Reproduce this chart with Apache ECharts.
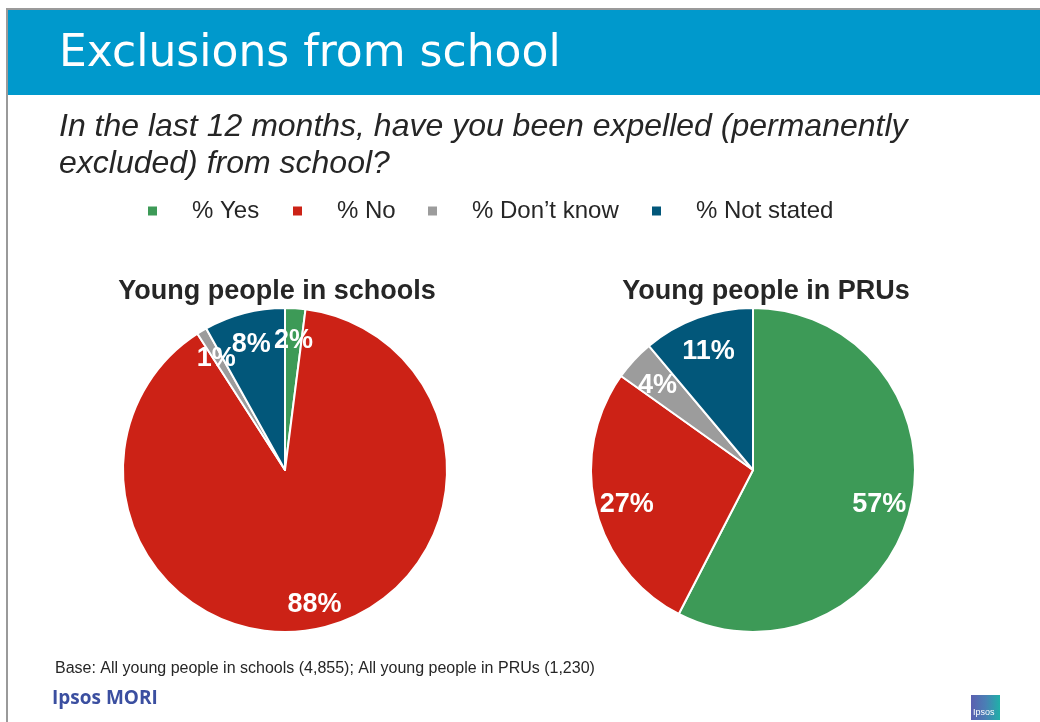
<!DOCTYPE html>
<html>
<head>
<meta charset="utf-8">
<style>
  html, body { margin: 0; padding: 0; background: #ffffff; }
  #chart { width: 1040px; height: 722px; }
</style>
<script src="https://cdn.jsdelivr.net/npm/echarts@6/dist/echarts.min.js"></script>
</head>
<body>
<div id="chart"></div>
<script>
// Answer categories and their colours
const categories = ['% Yes', '% No', '% Don\u2019t know', '% Not stated'];
const colors = ['#3D9A57', '#CC2216', '#9C9C9C', '#02577A'];

// Percentages for each group
const schoolsValues = [2, 88, 1, 8];
const prusValues = [57, 27, 4, 11];

const groupTitles = ['Young people in schools', 'Young people in PRUs'];

const FONT = '"Liberation Sans", Arial, sans-serif';

const chart = echarts.init(document.getElementById('chart'), null, { renderer: 'canvas' });

const R = 162;
const centers = [[285, 470], [753, 470]];

function toData(values) {
  return values.map((v, i) => ({ name: categories[i], value: v, itemStyle: { color: colors[i] } }));
}

function pieSeries(values, center, labelInner) {
  return [
    {
      type: 'pie',
      center: center,
      radius: [0, R],
      startAngle: 90,
      clockwise: true,
      animation: false,
      silent: true,
      label: { show: false },
      labelLine: { show: false },
      itemStyle: { borderColor: '#ffffff', borderWidth: 2 },
      data: toData(values)
    },
    {
      // transparent ring that carries the value labels near the rim
      type: 'pie',
      center: center,
      radius: [labelInner, R],
      startAngle: 90,
      clockwise: true,
      animation: false,
      silent: true,
      avoidLabelOverlap: false,
      legendHoverLink: false,
      itemStyle: { color: 'rgba(0,0,0,0)', borderWidth: 0 },
      label: {
        show: true,
        position: 'inside',
        formatter: p => p.value + '%',
        color: '#ffffff',
        fontFamily: FONT,
        fontWeight: 'bold',
        fontSize: 27
      },
      labelLayout: { hideOverlap: false, dy: 4 },
      labelLine: { show: false },
      data: values.map((v, i) => ({ name: categories[i] + ' ', value: v }))
    }
  ];
}

// one legend block per category so each entry sits at its own position
const legendLefts = [141, 286, 421, 645];
const legends = categories.map((c, i) => ({
  data: [c],
  top: 194,
  left: legendLefts[i],
  itemWidth: 11,
  itemHeight: 11,
  icon: 'rect',
  selectedMode: false,
  textStyle: {
    fontFamily: FONT,
    fontSize: 24,
    color: '#262626',
    padding: [0, 0, 0, 29]
  }
}));

const option = {
  backgroundColor: '#ffffff',
  animation: false,
  legend: legends,
  title: [
    {
      text: groupTitles[0],
      left: 272,
      textAlign: 'center',
      top: 273,
      textStyle: { fontFamily: FONT, fontWeight: 'bold', fontSize: 27, color: '#262626' }
    },
    {
      text: groupTitles[1],
      left: 761,
      textAlign: 'center',
      top: 273,
      textStyle: { fontFamily: FONT, fontWeight: 'bold', fontSize: 27, color: '#262626' }
    }
  ],
  graphic: [
    // frame lines
    { type: 'rect', shape: { x: 6, y: 8, width: 1040, height: 2 }, style: { fill: '#9a9a9a' }, silent: true },
    { type: 'rect', shape: { x: 6, y: 8, width: 2, height: 720 }, style: { fill: '#9a9a9a' }, silent: true },
    // header band
    { type: 'rect', shape: { x: 8, y: 10, width: 1040, height: 85 }, style: { fill: '#0099CC' }, silent: true },
    {
      type: 'text', left: 59, top: 33, silent: true,
      style: { text: 'Exclusions from school', fill: '#ffffff', font: '44px "DejaVu Sans", sans-serif' }
    },
    {
      type: 'text', left: 59, top: 109, silent: true,
      style: {
        text: 'In the last 12 months, have you been expelled (permanently\nexcluded) from school?',
        fill: '#262626', font: 'italic 32px ' + FONT, lineHeight: 37
      }
    },
    {
      type: 'text', left: 55, top: 661, silent: true,
      style: {
        text: 'Base: All young people in schools (4,855); All young people in PRUs (1,230)',
        fill: '#262626', font: '16px ' + FONT
      }
    },
    {
      type: 'text', left: 52, top: 689, silent: true,
      style: { text: 'Ipsos MORI', fill: '#3B4FA0', font: 'bold 19px "Open Sans", "Liberation Sans", sans-serif' }
    },
    // small corner logo
    {
      type: 'rect', shape: { x: 971, y: 695, width: 29, height: 25 }, silent: true,
      style: {
        fill: new echarts.graphic.LinearGradient(0, 0, 1, 0, [
          { offset: 0, color: '#5B5FB0' }, { offset: 0.5, color: '#4A7FB5' }, { offset: 1, color: '#20B0A8' }
        ])
      }
    },
    {
      type: 'text', left: 973, top: 708, silent: true,
      style: { text: 'Ipsos', fill: '#ffffff', font: '9px ' + FONT }
    }
  ],
  series: [
    ...pieSeries(schoolsValues, centers[0], 100),
    ...pieSeries(prusValues, centers[1], 92)
  ]
};

chart.setOption(option);
</script>
</body>
</html>
